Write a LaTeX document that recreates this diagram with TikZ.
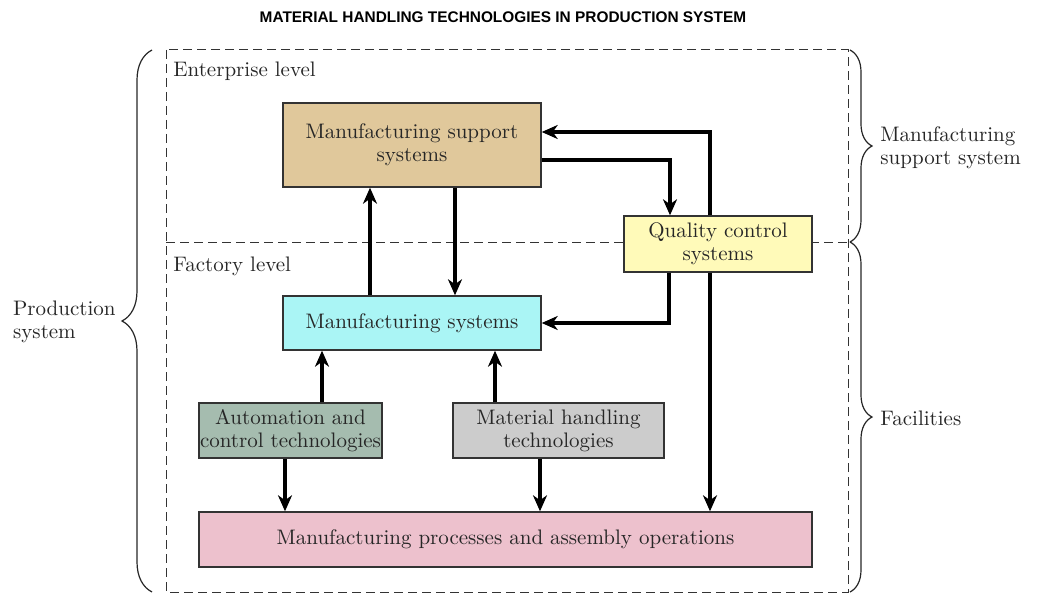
\documentclass[tikz,border=0pt]{standalone}
\usepackage{fontspec}
\usetikzlibrary{arrows.meta,decorations.pathreplacing}
\newfontfamily\titlefont{Liberation Sans}
\newcommand\boxfont{\fontsize{10.5}{11.5}\selectfont}
\definecolor{supp}{HTML}{E0C89B}
\definecolor{qual}{HTML}{FFFAB9}
\definecolor{manu}{HTML}{AAF5F5}
\definecolor{auto}{HTML}{A5BCAF}
\definecolor{hand}{HTML}{CCCCCC}
\definecolor{proc}{HTML}{EDC1CD}
\begin{document}
\begin{tikzpicture}[x=0.5pt,y=-0.5pt,
  blk/.style={draw=black!80,line width=0.7pt,inner sep=0pt,align=center,font=\boxfont,text=black!85},
  flow/.style={line width=1.8pt,-{Stealth[length=8pt,width=7pt,inset=2.5pt]}},
  lvl/.style={dash pattern=on 4.5pt off 2.5pt,line width=0.5pt,draw=black!80},
  brc/.style={decorate,decoration={brace,amplitude=#1},line width=0.6pt,draw=black!85},
  side/.style={anchor=west,inner sep=0pt,align=left,font=\boxfont,text=black!85}]
\useasboundingbox (0,0) rectangle (1050,615);
\def\vflow#1#2#3{\draw[flow] (#1 -| #3,0) -- (#2 -| #3,0);}
\node[font=\titlefont\bfseries\fontsize{7.7}{9}\selectfont] (title) at (503,17) {MATERIAL HANDLING TECHNOLOGIES IN PRODUCTION SYSTEM};
% levels
\draw[lvl] (166,50) rectangle (848,592);
\draw[lvl] (166,242) -- (848,242);
\node[anchor=base west,inner sep=0pt,font=\boxfont,text=black!85] (ent) at (173,77) {Enterprise level};
\node[anchor=base west,inner sep=0pt,font=\boxfont,text=black!85] (fac) at (173,271) {Factory level};
% blocks
\node[blk,fill=supp,minimum width=129pt,minimum height=42pt] (mss) at (412,145) {Manufacturing support\\systems};
\node[blk,fill=qual,minimum width=94pt,minimum height=28pt] (qc) at (718,244) {Quality control\\systems};
\node[blk,fill=manu,minimum width=129pt,minimum height=27pt] (ms) at (412,323) {Manufacturing systems};
\node[blk,fill=auto,minimum width=91.5pt,minimum height=27.5pt] (act) at (290.5,430.5) {Automation and\\control technologies};
\node[blk,fill=hand,minimum width=105.5pt,minimum height=27.5pt] (mht) at (558.5,430.5) {Material handling\\technologies};
\node[blk,fill=proc,minimum width=306.5pt,minimum height=27.5pt] (mpao) at (505.5,539.5) {Manufacturing processes and assembly operations};
% flows
\vflow{ms.north}{mss.south}{370}
\vflow{mss.south}{ms.north}{455}
\vflow{act.north}{ms.south}{322}
\vflow{mht.north}{ms.south}{495}
\vflow{act.south}{mpao.north}{285}
\vflow{mht.south}{mpao.north}{540}
\vflow{qc.south}{mpao.north}{710}
\draw[flow] (mss.east |- 0,160) -| (qc.north -| 670,0);
\draw[flow] (qc.north -| 710,0) |- (mss.east |- 0,132);
\draw[flow] (qc.south -| 669,0) |- (ms.east);
% braces
\draw[brc=15pt] (152,592) -- (152,50);
\draw[brc=11pt] (850,50) -- (850,242);
\draw[brc=11pt] (850,242) -- (850,592);
\node[side,anchor=east] (prod) at (116,322) {Production\\system};
\node[side] (supsys) at (880,148) {Manufacturing\\support system};
\node[side] (facil) at (880,418) {Facilities};
\end{tikzpicture}
\end{document}
